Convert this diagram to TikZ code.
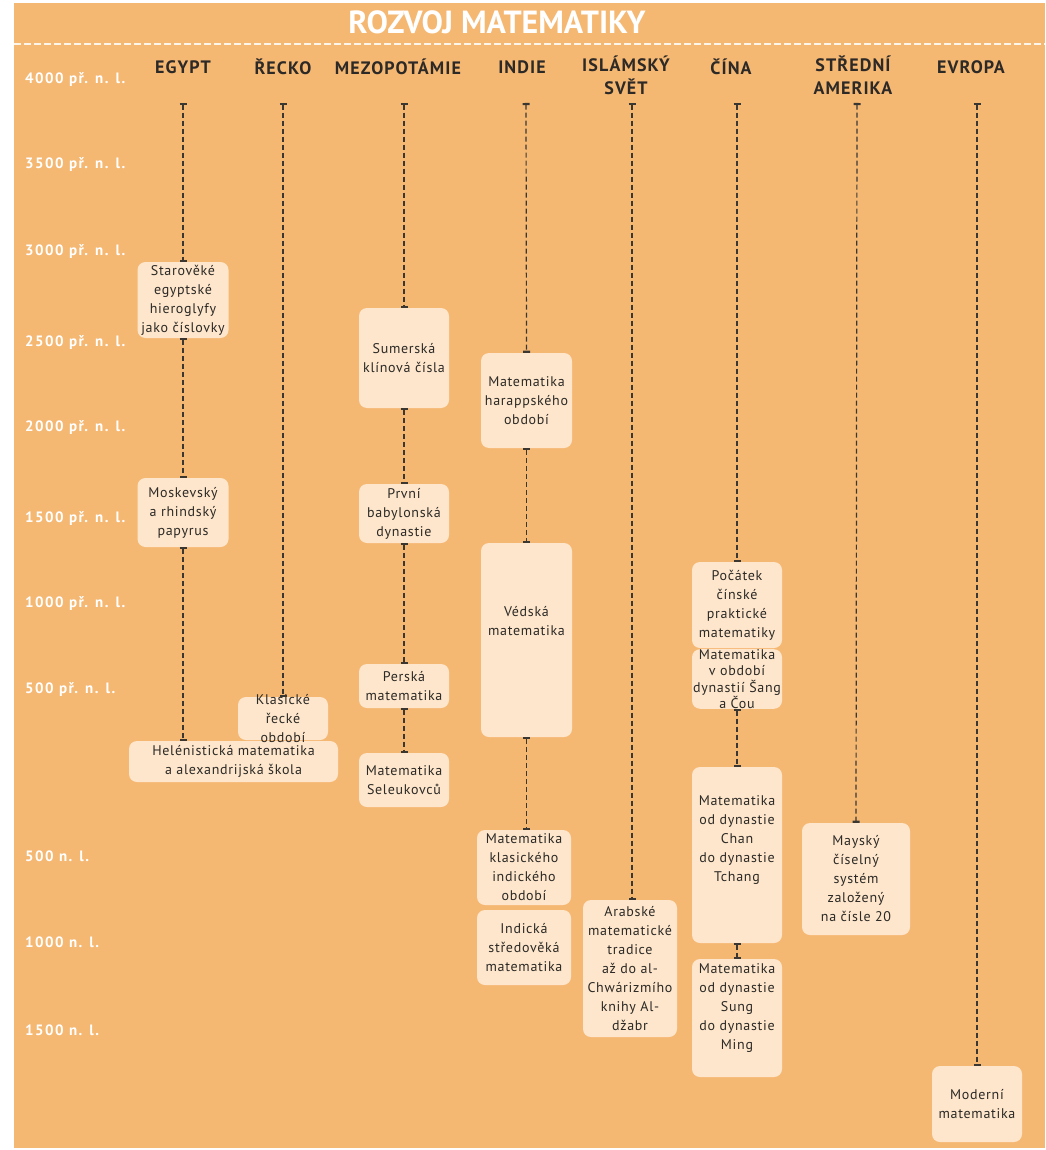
\documentclass[tikz,border=0pt]{standalone}
\usepackage{fontspec}
\setmainfont{PT Sans}
\newfontfamily\boxfont[LetterSpace=5]{PT Sans}
\newfontfamily\hdrfont[LetterSpace=6]{PT Sans}
\newfontfamily\yrfont[LetterSpace=10]{PT Sans}
\usetikzlibrary{arrows.meta}
\definecolor{bgc}{HTML}{F5B873}
\definecolor{boxc}{HTML}{FDE6CB}
\definecolor{txtc}{HTML}{2C2926}
\definecolor{linec}{HTML}{3A3733}
\tikzset{
  box/.style 2 args={fill=boxc, draw=none, rounded corners=8pt, minimum width=#1pt, minimum height=#2pt, inner sep=0pt, align=center, text=txtc, font=\boxfont\fontsize{14}{19}\selectfont},
  txt/.style={inner sep=0pt, align=center, text=txtc, font=\boxfont\fontsize{14}{19}\selectfont},
  hdr/.style={inner sep=0pt, align=center, text=txtc, font=\hdrfont\fontsize{18}{23}\selectfont\bfseries},
  yr/.style={inner sep=0pt, anchor=west, text=white, font=\yrfont\fontsize{15}{18}\selectfont\bfseries},
  conn/.style={draw=linec, line width=1.2pt, dash pattern=on 5pt off 3pt, {Bar[width=7pt,line width=2.2pt]}-{Bar[width=7pt,line width=2.2pt]}},
}
\begin{document}
\begin{tikzpicture}[x=1pt,y=-1pt]
\useasboundingbox (0,0) rectangle (1045,1150);
\fill[bgc] (14,3) rectangle (1045,1148);
\node[inner sep=0pt, text=white, font=\fontsize{32}{32}\selectfont\bfseries] (title) at (497,22) {ROZVOJ MATEMATIKY};
\draw[white, opacity=0.85, line width=1.5pt, dash pattern=on 7pt off 3pt] (14,44) -- (1045,44);

% headers
\node[hdr] (hEG) at (183,67) {EGYPT};
\node[hdr] (hGR) at (283,67) {ŘECKO};
\node[hdr] (hME) at (398,67) {MEZOPOTÁMIE};
\node[hdr] (hIN) at (522,67) {INDIE};
\node[hdr, anchor=north] (hIS) at (626,56) {ISLÁMSKÝ\\SVĚT};
\node[hdr] (hCN) at (731,67) {ČÍNA};
\node[hdr, anchor=north] (hAM) at (853,56) {STŘEDNÍ\\AMERIKA};
\node[hdr] (hEU) at (971,67) {EVROPA};

% year labels
\node[yr] (y1) at (25,80) {4000 př. n. l.};
\node[yr] (y2) at (25,165) {3500 př. n. l.};
\node[yr] (y3) at (25,252) {3000 př. n. l.};
\node[yr] (y4) at (25,343) {2500 př. n. l.};
\node[yr] (y5) at (25,428) {2000 př. n. l.};
\node[yr] (y6) at (25,519) {1500 př. n. l.};
\node[yr] (y7) at (25,604) {1000 př. n. l.};
\node[yr] (y8) at (25,690) {500 př. n. l.};
\node[yr] (y9) at (25,856) {500 n. l.};
\node[yr] (y10) at (25,942) {1000 n. l.};
\node[yr] (y11) at (25,1030) {1500 n. l.};

% top coordinates
\coordinate (egT) at (183,103);
\coordinate (grT) at (283,103);
\coordinate (meT) at (404,103);
\coordinate (inT) at (526,103);
\coordinate (isT) at (632,103);
\coordinate (cnT) at (737,103);
\coordinate (amT) at (857,103);
\coordinate (euT) at (977,103);

% Egypt
\node[box={91}{76}] (eg1) at (183,300) {Starověké\\egyptské\\hieroglyfy\\jako číslovky};
\node[box={91}{69}] (eg2) at (183,512.5) {Moskevský\\a rhindský\\papyrus};
% Greece
\node[box={90}{43}] (gr1) at (283,718.5) {};
\node[box={209}{41}] (eg3) at (233.5,761.5) {Helénistická matematika\\a alexandrijská škola};
\node[txt] (gr1t) at (283,718.5) {Klasické\\řecké\\období};
% Mesopotamia
\node[box={90}{100}] (me1) at (404,358) {Sumerská\\klínová čísla};
\node[box={90}{59}] (me2) at (404,513.5) {První\\babylonská\\dynastie};
\node[box={90}{44}] (me3) at (404,686) {Perská\\matematika};
\node[box={90}{54}] (me4) at (404,780) {Matematika\\Seleukovců};
% India
\node[box={91}{95}] (in1) at (526.5,400.5) {Matematika\\harappského\\období};
\node[box={91}{194}] (in2) at (526.5,640) {};
\node[txt] (in2t) at (526.5,621) {Védská\\matematika};
\node[box={94}{75}] (in3) at (524,867.5) {Matematika\\klasického\\indického\\období};
\node[box={94}{75}] (in4) at (524,947.5) {Indická\\středověká\\matematika};
% Islamic world
\node[box={94}{137}] (is1) at (630,968.5) {Arabské\\matematické\\tradice\\až do al-\\Chwárizmího\\knihy Al-\\džabr};
% China
\node[box={90}{86}] (cn1) at (737,605) {Počátek\\čínské\\praktické\\matematiky};
\node[box={90}{58}, font=\boxfont\fontsize{14}{16.5}\selectfont] (cn2) at (737,679) {Matematika\\v období\\dynastií Šang\\a Čou};
\node[box={90}{176}] (cn3) at (737,855) {};
\node[txt] (cn3t) at (737,840) {Matematika\\od dynastie\\Chan\\do dynastie\\Tchang};
\node[box={90}{118}] (cn4) at (737,1018) {};
\node[txt] (cn4t) at (737,1008) {Matematika\\od dynastie\\Sung\\do dynastie\\Ming};
% Central America
\node[box={108}{112}] (am1) at (856,879) {Mayský\\číselný\\systém\\založený\\na čísle 20};
% Europe
\node[box={90}{76}] (eu1) at (977,1104) {Moderní\\matematika};

% connectors
\draw[conn] (egT) -- (eg1.north);
\draw[conn] (eg1.south) -- (eg2.north);
\draw[conn] (eg2.south) -- (eg2.south |- eg3.north);
\draw[conn] (grT) -- (gr1.north);
\draw[conn] (meT) -- (me1.north);
\draw[conn] (me1.south) -- (me2.north);
\draw[conn] (me2.south) -- (me3.north);
\draw[conn] (me3.south) -- (me4.north);
\draw[conn] (inT) -- (in1.north);
\draw[conn] (in1.south) -- (in2.north);
\draw[conn] (in2.south) -- (in2.south |- in3.north);
\draw[conn] (isT) -- (isT |- is1.north);
\draw[conn] (cnT) -- (cn1.north);
\draw[conn] (cn2.south) -- (cn3.north);
\draw[conn] (cn3.south) -- (cn4.north);
\draw[conn] (amT) -- (am1.north);
\draw[conn] (euT) -- (eu1.north);
\end{tikzpicture}
\end{document}
